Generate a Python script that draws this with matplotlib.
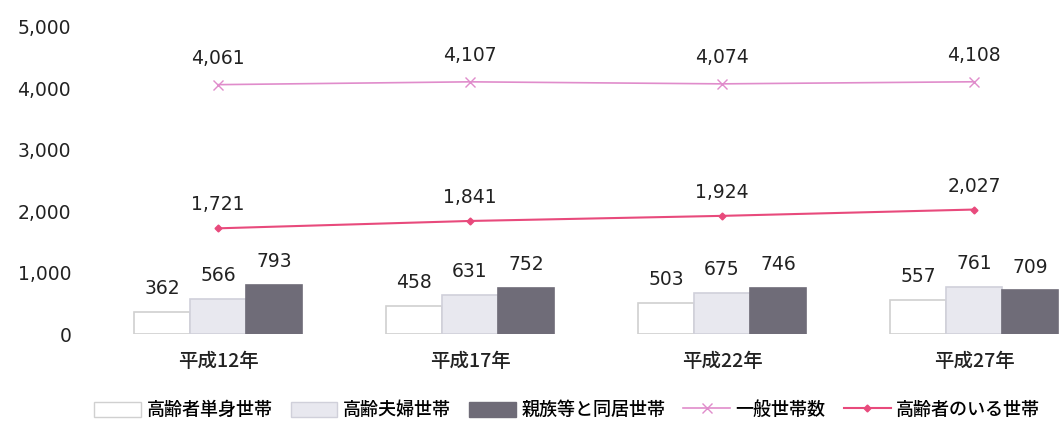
import numpy as np
import matplotlib.pyplot as plt
from matplotlib.patches import Patch
from matplotlib.lines import Line2D

plt.rcParams['font.family'] = ['DejaVu Sans', 'Noto Sans CJK JP']

# data (千世帯)
years = ["平成12年", "平成17年", "平成22年", "平成27年"]
single_elderly = [362, 458, 503, 557]
elderly_couple = [566, 631, 675, 761]
with_relatives = [793, 752, 746, 709]
general_households = [4061, 4107, 4074, 4108]
elderly_households = [1721, 1841, 1924, 2027]

bar_names = ["高齢者単身世帯", "高齢夫婦世帯", "親族等と同居世帯"]
line_names = ["一般世帯数", "高齢者のいる世帯"]

bar_face = ["#ffffff", "#e8e8ef", "#6f6c78"]
bar_edge = ["#d0d0d0", "#d0d0da", "#6f6c78"]
c_general = "#e08ccb"
c_elderly = "#e84a7c"

fig = plt.figure(figsize=(10.64, 4.23), dpi=100)
ax = fig.add_axes([92 / 1064, 89 / 423, 972 / 1064, 307 / 423])

x = np.arange(len(years))
w = 0.222
num_font = dict(fontsize=13.5, color="#222222", ha="center", va="bottom")

for i, vals in enumerate([single_elderly, elderly_couple, with_relatives]):
    pos = x + (i - 1) * w
    ax.bar(pos, vals, width=w, color=bar_face[i], edgecolor=bar_edge[i], linewidth=1.2)
    for px, v in zip(pos, vals):
        ax.annotate(f"{v:,}", (px, v), xytext=(0, 10), textcoords="offset points", **num_font)

ax.plot(x, general_households, color=c_general, marker="x", markersize=7, linewidth=1.2)
ax.plot(x, elderly_households, color=c_elderly, marker="D", markersize=3.5, linewidth=1.5)
for px, v in zip(x, general_households):
    ax.annotate(f"{v:,}", (px, v), xytext=(0, 12), textcoords="offset points", **num_font)
for px, v in zip(x, elderly_households):
    ax.annotate(f"{v:,}", (px, v), xytext=(0, 10), textcoords="offset points", **num_font)

ax.set_xlim(-0.5, 3.357)
ax.set_ylim(0, 5000)
ax.set_yticks(range(0, 5001, 1000))
ax.set_yticklabels([f"{t:,}" for t in range(0, 5001, 1000)], fontsize=13.5, color="#222222")
ax.set_xticks(x)
ax.set_xticklabels(years, fontsize=14, family=['Noto Sans CJK JP'], weight='medium', color="#222222")
ax.tick_params(length=0, axis='y', pad=15)
ax.tick_params(length=0, axis='x', pad=13)
for s in ax.spines.values():
    s.set_visible(False)

handles = [Patch(facecolor=bar_face[i], edgecolor=bar_edge[i], label=bar_names[i]) for i in range(3)]
handles += [
    Line2D([], [], color=c_general, marker="x", markersize=7, linewidth=1.2, label=line_names[0]),
    Line2D([], [], color=c_elderly, marker="D", markersize=3.5, linewidth=1.5, label=line_names[1]),
]
fig.legend(handles=handles, loc="center", bbox_to_anchor=(0.533, 0.03), ncol=5, frameon=False,
           prop={'family': 'Noto Sans CJK JP', 'size': 13, 'weight': 'medium'},
           handlelength=2.6, handleheight=0.9, columnspacing=1.0, handletextpad=0.3)

fig.savefig("out.png", dpi=100)
